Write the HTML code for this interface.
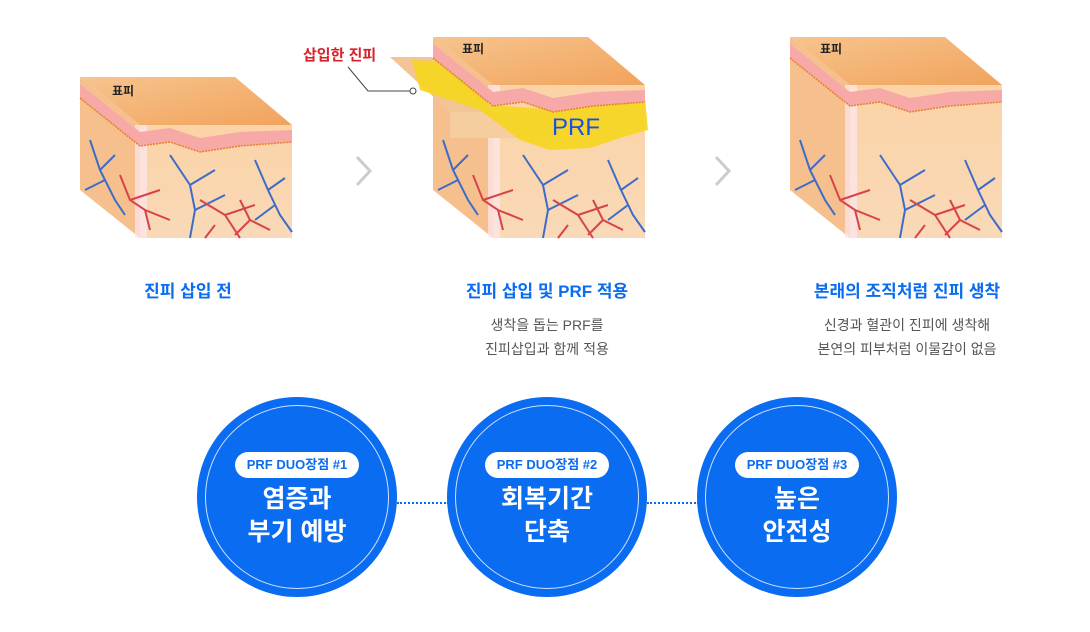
<!DOCTYPE html>
<html><head><meta charset="utf-8">
<style>
body{margin:0;width:1090px;height:632px;background:#fff;position:relative;overflow:hidden;font-family:"Liberation Sans","Noto Sans CJK KR",sans-serif}
.t{position:absolute;text-align:center;width:300px;font-weight:bold;color:#0a6cf0;font-size:17px}
.s{position:absolute;text-align:center;width:300px;color:#555;font-size:14px;line-height:24px}
.c{position:absolute;width:200px;height:200px;border-radius:50%;background:#0a6cf0}
.c .in{position:absolute;left:8px;top:8px;width:182px;height:182px;border-radius:50%;border:1px solid #cfe2ff}
.c .p{position:absolute;left:38px;top:55px;width:124px;height:26px;border-radius:13px;background:#fff;color:#0a6cf0;font-size:13px;font-weight:bold;text-align:center;line-height:26px}
.c .m{position:absolute;left:0;top:86px;width:200px;text-align:center;color:#fff;font-weight:bold;font-size:25px;line-height:33px}
.d{position:absolute;top:502px;height:0;border-top:2px dotted #0a6cf0;width:52px}
</style></head><body>
<svg width="1090" height="632" style="position:absolute;left:0;top:0">
<defs>
<linearGradient id="tp" x1="0" y1="0" x2="1" y2="1"><stop offset="0" stop-color="#f7c48e"/><stop offset="1" stop-color="#f1a35c"/></linearGradient>
<linearGradient id="fr" x1="0" y1="0" x2="0" y2="1"><stop offset="0" stop-color="#fbd3a6"/><stop offset="1" stop-color="#f9d9b8"/></linearGradient>
<g id="ves" fill="none" stroke-width="2">
<path d="M90 140 L100 170 L115 200 L125 215 M100 170 L115 155 M105 180 L85 190" stroke="#3d6cc8"/>
<path d="M120 175 L130 200 L145 210 L170 220 M130 200 L160 190 M145 210 L150 230" stroke="#d8434a"/>
<path d="M170 155 L190 185 L195 210 L190 238 M190 185 L215 170 M195 210 L225 195" stroke="#3d6cc8"/>
<path d="M200 200 L225 215 L240 238 M225 215 L255 205 M215 225 L205 238" stroke="#d8434a"/>
<path d="M255 160 L268 190 L280 215 L292 232 M268 190 L285 178 M275 205 L255 220" stroke="#3d6cc8"/>
<path d="M240 200 L250 220 L270 230 M250 220 L235 235" stroke="#d8434a"/>
</g>
<g id="cube">
<polygon points="80,77 235,77 292,125 140,125" fill="url(#tp)"/>
<polygon points="80,77 140,125 140,238 80,190" fill="#f6c08e"/>
<polygon points="140,125 292,125 292,238 140,238" fill="url(#fr)"/>
<rect x="135" y="125" width="12" height="113" fill="#fde7ef" opacity=".7"/>
<path d="M80,84 L140,132 L170,128 L200,138 L240,132 L292,130 L292,142 L240,146 L200,152 L170,142 L140,146 L80,98Z" fill="#f6a9a6"/>
<path d="M80,98 L140,146 L170,142 L200,152 L240,146 L292,142" fill="none" stroke="#e5822e" stroke-width="1.5" stroke-dasharray="2 1"/>
<use href="#ves"/>
</g>
<g id="body">
<polygon points="80,37 140,85 140,238 80,190" fill="#f6c08e"/>
<polygon points="140,85 292,85 292,238 140,238" fill="url(#fr)"/>
<rect x="135" y="85" width="12" height="153" fill="#fde7ef" opacity=".7"/>
<use href="#ves"/>
</g>
<g id="skin">
<polygon points="80,37 235,37 292,85 140,85" fill="url(#tp)"/>
<path d="M80,44 L140,92 L170,88 L200,98 L240,92 L292,90 L292,102 L240,106 L200,112 L170,102 L140,106 L80,58Z" fill="#f6a9a6"/>
<path d="M80,58 L140,106 L170,102 L200,112 L240,106 L292,102" fill="none" stroke="#e5822e" stroke-width="1.5" stroke-dasharray="2 1"/>
</g>
</defs>
<use href="#cube"/>
<text x="112" y="95" font-size="12" font-weight="bold" fill="#222" font-family="Liberation Sans,Noto Sans CJK KR,sans-serif">표피</text>

<g transform="translate(353,0)"><use href="#body"/></g>
<polygon points="390,57 432,57 492,112 450,112" fill="#f3c594"/>
<polygon points="450,112 560,112 560,138 450,138" fill="#f6cd9e"/>
<path d="M412,60 L440,62 L490,105 L560,110 L600,104 L645,98 L648,130 L620,138 L590,148 L550,150 L520,140 L480,110 L420,90Z" fill="#f5d61c" opacity=".9"/>
<g transform="translate(353,0)"><use href="#skin"/></g>
<text x="552" y="135" font-size="24" fill="#1f4fe0" font-family="Liberation Sans,sans-serif">PRF</text>
<text x="462" y="53" font-size="12" font-weight="bold" fill="#222" font-family="Liberation Sans,Noto Sans CJK KR,sans-serif">표피</text>
<text x="303" y="60" font-size="15" font-weight="bold" fill="#d8232a" font-family="Liberation Sans,Noto Sans CJK KR,sans-serif">삽입한 진피</text>
<polyline points="348,67 368,91 413,91" fill="none" stroke="#444" stroke-width="1"/>
<circle cx="413" cy="91" r="3" fill="#fff" stroke="#444"/>

<g transform="translate(710,0)"><use href="#body"/><use href="#skin"/></g>
<text x="820" y="53" font-size="12" font-weight="bold" fill="#222" font-family="Liberation Sans,Noto Sans CJK KR,sans-serif">표피</text>
<polyline points="357,157 370,171 357,185" fill="none" stroke="#ccc" stroke-width="3"/>
<polyline points="716,157 729,171 716,185" fill="none" stroke="#ccc" stroke-width="3"/>
</svg>
<div class="t" style="left:38px;top:277px">진피 삽입 전</div>
<div class="t" style="left:397px;top:277px">진피 삽입 및 PRF 적용</div>
<div class="t" style="left:757px;top:277px">본래의 조직처럼 진피 생착</div>
<div class="s" style="left:397px;top:313px">생착을 돕는 PRF를<br>진피삽입과 함께 적용</div>
<div class="s" style="left:757px;top:313px">신경과 혈관이 진피에 생착해<br>본연의 피부처럼 이물감이 없음</div>
<div class="d" style="left:397px"></div>
<div class="d" style="left:647px"></div>
<div class="c" style="left:197px;top:397px"><div class="in"></div><div class="p">PRF DUO장점 #1</div><div class="m">염증과<br>부기 예방</div></div>
<div class="c" style="left:447px;top:397px"><div class="in"></div><div class="p">PRF DUO장점 #2</div><div class="m">회복기간<br>단축</div></div>
<div class="c" style="left:697px;top:397px"><div class="in"></div><div class="p">PRF DUO장점 #3</div><div class="m">높은<br>안전성</div></div>
</body></html>
